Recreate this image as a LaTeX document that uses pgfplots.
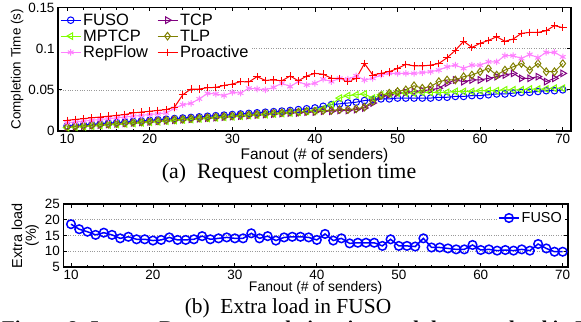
\documentclass[border=0pt]{standalone}
\usepackage{fontspec}
\setmainfont{Liberation Serif}
\setsansfont{Liberation Sans}
\usepackage{pgfplots}
\pgfplotsset{compat=1.18}
\usepackage{pgfplotstable}

\definecolor{cFUSO}{rgb}{0,0,1}
\definecolor{cTCP}{rgb}{0.5,0,0.5}
\definecolor{cMPTCP}{rgb}{0.5,1,0}
\definecolor{cTLP}{rgb}{0.5,0.5,0}
\definecolor{cRep}{rgb}{1,0.5,1}
\definecolor{cPro}{rgb}{1,0,0}

\pgfplotstableread{
x  fuso   tcp    mptcp  tlp    rep    pro
10 0.0060 0.0050 0.0040 0.0050 0.0100 0.0130
11 0.0067 0.0055 0.0047 0.0057 0.0110 0.0140
12 0.0074 0.0062 0.0053 0.0063 0.0120 0.0150
13 0.0081 0.0068 0.0060 0.0070 0.0130 0.0160
14 0.0088 0.0074 0.0067 0.0077 0.0140 0.0170
15 0.0095 0.0081 0.0073 0.0083 0.0150 0.0180
16 0.0102 0.0087 0.0080 0.0090 0.0160 0.0190
17 0.0109 0.0094 0.0087 0.0097 0.0170 0.0200
18 0.0116 0.0100 0.0093 0.0103 0.0180 0.0220
19 0.0123 0.0106 0.0100 0.0110 0.0190 0.0230
20 0.0130 0.0112 0.0107 0.0117 0.0200 0.0240
21 0.0137 0.0119 0.0113 0.0123 0.0210 0.0250
22 0.0144 0.0125 0.0120 0.0130 0.0220 0.0260
23 0.0151 0.0132 0.0127 0.0137 0.0275 0.0290
24 0.0158 0.0138 0.0133 0.0143 0.0320 0.0440
25 0.0165 0.0144 0.0140 0.0150 0.0336 0.0510
26 0.0172 0.0150 0.0147 0.0157 0.0390 0.0510
27 0.0179 0.0157 0.0153 0.0163 0.0457 0.0526
28 0.0186 0.0163 0.0160 0.0170 0.0450 0.0530
29 0.0193 0.0170 0.0167 0.0177 0.0430 0.0554
30 0.0200 0.0176 0.0173 0.0183 0.0470 0.0570
31 0.0207 0.0182 0.0180 0.0190 0.0460 0.0600
32 0.0214 0.0188 0.0187 0.0197 0.0520 0.0596
33 0.0221 0.0195 0.0193 0.0203 0.0510 0.0660
34 0.0228 0.0201 0.0200 0.0210 0.0500 0.0615
35 0.0235 0.0207 0.0207 0.0217 0.0530 0.0620
36 0.0242 0.0213 0.0213 0.0223 0.0580 0.0610
37 0.0249 0.0220 0.0220 0.0230 0.0540 0.0668
38 0.0260 0.0220 0.0230 0.0230 0.0600 0.0610
39 0.0270 0.0230 0.0240 0.0240 0.0560 0.0668
40 0.0280 0.0230 0.0250 0.0240 0.0580 0.0700
41 0.0300 0.0240 0.0270 0.0250 0.0630 0.0690
42 0.0320 0.0240 0.0320 0.0250 0.0600 0.0640
43 0.0330 0.0250 0.0400 0.0260 0.0640 0.0640
44 0.0340 0.0250 0.0430 0.0260 0.0630 0.0600
45 0.0350 0.0260 0.0440 0.0270 0.0670 0.0640
46 0.0370 0.0280 0.0450 0.0290 0.0620 0.0820
47 0.0380 0.0340 0.0400 0.0360 0.0640 0.0680
48 0.0390 0.0420 0.0440 0.0430 0.0680 0.0700
49 0.0390 0.0440 0.0450 0.0460 0.0700 0.0720
50 0.0400 0.0460 0.0460 0.0480 0.0700 0.0760
51 0.0400 0.0470 0.0460 0.0500 0.0700 0.0810
52 0.0400 0.0480 0.0460 0.0550 0.0700 0.0790
53 0.0400 0.0490 0.0470 0.0520 0.0710 0.0790
54 0.0400 0.0500 0.0470 0.0540 0.0720 0.0800
55 0.0410 0.0520 0.0470 0.0600 0.0740 0.0820
56 0.0410 0.0580 0.0470 0.0620 0.0780 0.0890
57 0.0420 0.0620 0.0480 0.0620 0.0800 0.0980
58 0.0420 0.0600 0.0480 0.0660 0.0760 0.1090
59 0.0430 0.0620 0.0480 0.0680 0.0800 0.1016
60 0.0430 0.0620 0.0490 0.0720 0.0800 0.1065
61 0.0440 0.0640 0.0490 0.0760 0.0840 0.1100
62 0.0450 0.0660 0.0490 0.0680 0.0840 0.1145
63 0.0450 0.0680 0.0500 0.0740 0.0915 0.1090
64 0.0460 0.0700 0.0500 0.0780 0.0915 0.1117
65 0.0470 0.0640 0.0500 0.0820 0.0880 0.1186
66 0.0470 0.0640 0.0510 0.0740 0.0930 0.1198
67 0.0480 0.0660 0.0510 0.0820 0.0890 0.1198
68 0.0490 0.0600 0.0510 0.0720 0.0955 0.1218
69 0.0490 0.0640 0.0520 0.0720 0.0955 0.1280
70 0.0500 0.0700 0.0520 0.0820 0.0900 0.1255
}\tabtop

\pgfplotstableread{
x  load
10 18.6
11 17.0
12 16.2
13 15.2
14 15.9
15 15.2
16 14.1
17 14.6
18 13.8
19 13.8
20 13.4
21 13.6
22 14.4
23 13.6
24 13.6
25 13.8
26 14.8
27 13.8
28 14.1
29 14.4
30 14.1
31 14.1
32 15.7
33 14.1
34 14.8
35 13.4
36 14.4
37 14.6
38 14.6
39 14.4
40 13.6
41 15.5
42 13.4
43 14.1
44 12.5
45 12.7
46 12.7
47 12.7
48 11.7
49 13.8
50 11.7
51 11.7
52 11.5
53 14.1
54 11.2
55 11.2
56 10.9
57 10.6
58 10.6
59 12.0
60 10.4
61 10.6
62 10.2
63 10.4
64 10.2
65 10.6
66 10.2
67 12.3
68 10.9
69 9.85
70 9.85
}\tabbot

\pgfplotsset{
  common/.style={
    scale only axis,
    anchor=north west,
    axis line style={line width=1.4bp},
    tick style={black, line width=0.8bp},
    major tick length=4bp,
    minor tick length=2.5bp,
    xtick={10,20,...,70},
    minor x tick num=4,
    ymajorgrids,
    grid style={dotted, gray!80, line width=0.6bp},
    /pgf/number format/assume math mode=true,
    ticklabel style={font=\sffamily\fontsize{13.5}{15}\selectfont},
    xlabel={Fanout (\# of senders)},
    legend cell align=left,
    legend image code/.code={\draw[mark repeat=2, mark phase=2] plot coordinates {(0bp,0bp) (10bp,0bp) (20bp,0bp)};},
  },
}

\begin{document}
\begin{tikzpicture}[x=1bp,y=1bp]
\path[use as bounding box] (0,0) rectangle (581,-321);

\begin{axis}[common,
  at={(58bp,-7.5bp)}, width=513bp, height=123.5bp,
  xmin=8.9, xmax=71, ymin=0, ymax=0.15,
  ytick={0,0.05,0.1,0.15}, yticklabels={0,0.05,0.1,0.15},
  scaled y ticks=false,
  ylabel={Completion Time (s)},
  ylabel style={font=\sffamily\fontsize{13.5}{15}\selectfont, yshift=-2bp},
  xlabel style={font=\sffamily\fontsize{15.5}{16}\selectfont, yshift=3bp},
  legend columns=2,
  legend style={draw=none, fill=white, at={(0,1)}, anchor=north west, xshift=1bp, yshift=-3bp,
    font=\sffamily\fontsize{16.5}{18}\selectfont, inner sep=1bp,
    /tikz/every even column/.append style={column sep=7bp}, row sep=-1bp},
  every axis plot/.append style={line width=1bp},
]
\addplot[color=cFUSO, mark=o, mark size=3.3bp] table[x=x, y=fuso] {\tabtop};
\addlegendentry{FUSO}
\addplot[color=cTCP, mark=triangle, mark size=3.8bp, mark options={rotate=-90}] table[x=x, y=tcp] {\tabtop};
\addlegendentry{TCP}
\addplot[color=cMPTCP, mark=triangle, mark size=3.8bp, mark options={rotate=90}] table[x=x, y=mptcp] {\tabtop};
\addlegendentry{MPTCP}
\addplot[color=cTLP, mark=diamond, mark size=3.8bp] table[x=x, y=tlp] {\tabtop};
\addlegendentry{TLP}
\addplot[color=cRep, mark=asterisk, mark size=3.3bp] table[x=x, y=rep] {\tabtop};
\addlegendentry{RepFlow}
\addplot[color=cPro, mark=+, mark size=3.8bp] table[x=x, y=pro] {\tabtop};
\addlegendentry{Proactive}
\end{axis}

\node[font=\fontsize{22}{24}\selectfont, anchor=base, inner sep=0pt] at (289,-178) {(a)\ \ Request completion time};

\begin{axis}[common,
  at={(63.3bp,-204bp)}, width=504.7bp, height=63bp,
  xmin=9.06, xmax=70.65, ymin=5, ymax=25,
  ytick={5,10,...,25},
  ylabel={Extra load\\(\%)},
  ylabel style={font=\sffamily\fontsize{14.5}{14}\selectfont, align=center, yshift=-1bp},
  xlabel style={font=\sffamily\fontsize{14}{15}\selectfont, yshift=2.5bp, inner sep=0pt},
  legend style={draw=none, fill=white, at={(1,1)}, anchor=north east, xshift=-3bp, yshift=-5bp,
    font=\sffamily\fontsize{14.5}{15}\selectfont, inner sep=1bp},
]
\addplot[color=cFUSO, mark=o, mark size=4.3bp, line width=1.5bp] table[x=x, y=load] {\tabbot};
\addlegendentry{FUSO}
\end{axis}

\node[font=\fontsize{21.5}{23}\selectfont, anchor=base, inner sep=0pt] at (288,-313) {(b)\ \ Extra load in FUSO};
\node[font=\bfseries\fontsize{21}{22}\selectfont, anchor=base west, inner sep=0pt] at (2,-335) {Figure 6: Incast: Request completion time and the extra load in FUSO};
\end{tikzpicture}
\end{document}
